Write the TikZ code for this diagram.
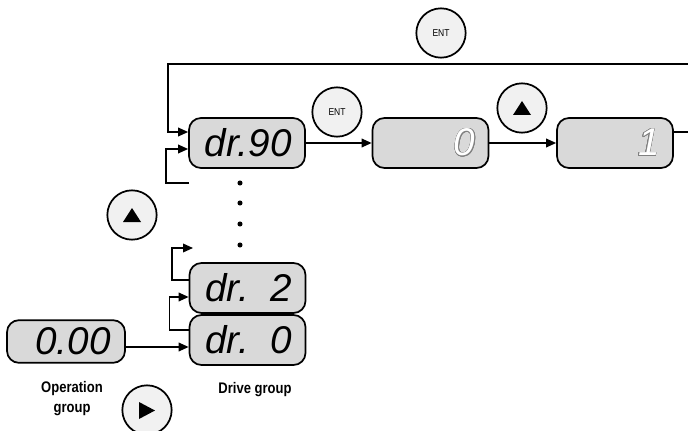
\documentclass[tikz,border=0pt]{standalone}
\usepackage{fontspec}
\setmainfont{Liberation Sans}
\setsansfont{Liberation Sans}
\newfontfamily\capfont{Liberation Sans}[FakeStretch=0.85]
\usepackage[copies]{contour}
\usetikzlibrary{arrows.meta}
\definecolor{PanelFill}{HTML}{D9D9D9}
\definecolor{KeyFill}{HTML}{F1F1F1}
\newcommand{\segfont}{\sffamily\itshape\fontsize{29}{30}\selectfont}
\newcommand{\hollow}[1]{{\color{white}\contour{gray}{#1}}}
\contourlength{0.5pt}

\begin{document}
\begin{tikzpicture}[x=0.75pt,y=-0.75pt,
    panel/.style={draw,line width=1.3pt,rounded corners=9pt,fill=PanelFill,
      minimum width=87pt,minimum height=37.5pt,inner xsep=10pt,text width=67pt,
      align=right,font=\segfont},
    key/.style={draw,circle,line width=1.3pt,fill=KeyFill,minimum size=37pt,
      inner sep=0pt,font=\capfont\fontsize{7.5}{8}\selectfont},
    flow/.style={line width=1.1pt,-{Triangle[length=7.5pt,width=6.5pt]}},
    wire/.style={line width=1.1pt},
    caption/.style={font=\capfont\bfseries\fontsize{11.5}{15}\selectfont,align=center}]
  \useasboundingbox (0,0) rectangle (688,431);
  % displays
  \node[panel] (d90) at (247,143) {dr.90};
  \node[panel] (v0) at (430.5,143) {\hollow{0}};
  \node[panel] (v1) at (615,143) {\hollow{1}};
  \node[panel] (d2) at (247.5,288) {dr.\hphantom{0}2};
  \node[panel] (d0) at (247.5,340) {dr.\hphantom{0}0};
  \node[panel,minimum width=88.5pt,minimum height=32pt] (op) at (66,341.5) {0.00};
  % keys
  \node[key] (entA) at (441,33) {ENT};
  \node[key] (entB) at (337,112) {ENT};
  \node[key] (upB) at (522,108) {};
  \node[key] (upA) at (132,215) {};
  \node[key] (rt) at (147,410) {};
  \fill (upB.center) +(-9,7) -- +(9,7) -- +(0,-7) -- cycle;
  \fill (upA.center) +(-9,7) -- +(9,7) -- +(0,-7) -- cycle;
  \fill (rt.center) +(-8,-8) -- +(-8,9) -- +(8,0.5) -- cycle;
  % dots
  \foreach \y in {183,203,224,245}
    \fill (240,\y) circle (1.9pt);
  % free ends
  \coordinate (loopR) at (688,64);
  \coordinate (exitR) at (688,132);
  \coordinate (tailA) at (189,183);
  \coordinate (tipU) at (193,248);
  \coordinate (in1) at ([shift={(0,-11)}]d90.west);
  \coordinate (in2) at ([shift={(0,6)}]d90.west);
  \coordinate (in0) at ([shift={(0,7)}]d0.west);
  \coordinate (inD2) at ([shift={(0,9)}]d2.west);
  % connectors
  \draw[flow] (loopR) -| ([xshift=-15pt]in1) -- (in1);
  \draw[flow] (tailA) -| ([xshift=-16.5pt]in2) -- (in2);
  \draw[flow] (d90) -- (v0);
  \draw[flow] (v0) -- (v1);
  \draw[wire] (v1.east |- exitR) -- (exitR);
  \draw[flow] (op.east |- in0) -- (in0);
  \draw[flow] ([shift={(0,-10)}]d0.west) -| ([xshift=-14.25pt]inD2) -- (inD2);
  \draw[flow] ([shift={(0,-8)}]d2.west) -| ([xshift=-15.75pt]tipU) -- (tipU);
  % captions
  \node[caption] (opcap) at (72,399) {Operation\\group};
  \node[caption] (drcap) at (255,390) {Drive group};
\end{tikzpicture}
\end{document}
